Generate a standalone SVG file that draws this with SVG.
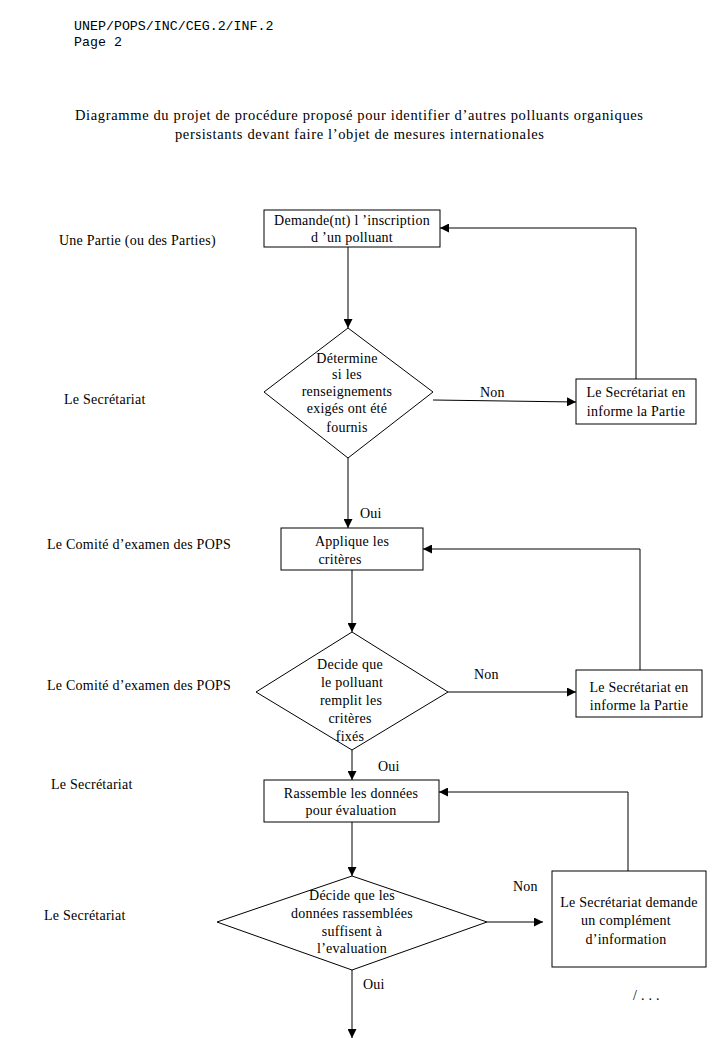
<svg xmlns="http://www.w3.org/2000/svg" width="719" height="1038" viewBox="0 0 719 1038">
<defs>
<style>
text{font-family:"Liberation Serif","Times New Roman",serif;font-size:14px;letter-spacing:0.25px;fill:#000}
.mono{font-family:"Liberation Mono","Courier New",monospace;font-size:13.3px;letter-spacing:0}
.title{font-size:14.5px;letter-spacing:0}
.c{text-anchor:middle}
.shape{fill:#fff;stroke:#000;stroke-width:1}
.conn{fill:none;stroke:#000;stroke-width:1}
</style>
<marker id="arr" viewBox="0 0 10 10" refX="10" refY="5" markerWidth="9" markerHeight="9" markerUnits="userSpaceOnUse" orient="auto">
<path d="M0,0 L10,5 L0,10 z" fill="#000"/>
</marker>
</defs>
<rect width="719" height="1038" fill="#fff"/>
<g id="header">
<text class="mono" x="74" y="30">UNEP/POPS/INC/CEG.2/INF.2</text>
<text class="mono" x="74" y="46">Page 2</text>
</g>
<g id="title">
<text class="title" x="75" y="120" textLength="568" lengthAdjust="spacing">Diagramme du projet de procédure proposé pour identifier d’autres polluants organiques</text>
<text class="title" x="175" y="139" textLength="369" lengthAdjust="spacing">persistants devant faire l’objet de mesures internationales</text>
</g>
<g id="lanes">
<text x="59" y="245">Une Partie (ou des Parties)</text>
<text x="64" y="404">Le Secrétariat</text>
<text x="47" y="549">Le Comité d’examen des POPS</text>
<text x="47" y="690">Le Comité d’examen des POPS</text>
<text x="51" y="789">Le Secrétariat</text>
<text x="44" y="920">Le Secrétariat</text>
</g>
<g id="connectors">
<line class="conn" x1="348" y1="247" x2="348" y2="328" marker-end="url(#arr)"/>
<polyline class="conn" points="433,400 576,402" marker-end="url(#arr)"/>
<polyline class="conn" points="636,379 636,228 440,228" marker-end="url(#arr)"/>
<line class="conn" x1="348" y1="458" x2="348" y2="528" marker-end="url(#arr)"/>
<polyline class="conn" points="640,670 640,549 423,549" marker-end="url(#arr)"/>
<line class="conn" x1="352" y1="570" x2="352" y2="632" marker-end="url(#arr)"/>
<line class="conn" x1="448" y1="692" x2="576" y2="692" marker-end="url(#arr)"/>
<line class="conn" x1="352" y1="750" x2="352" y2="780" marker-end="url(#arr)"/>
<polyline class="conn" points="628,871 628,792 439,792" marker-end="url(#arr)"/>
<line class="conn" x1="352" y1="822" x2="352" y2="876" marker-end="url(#arr)"/>
<line class="conn" x1="487" y1="922" x2="543" y2="922" marker-end="url(#arr)"/>
<line class="conn" x1="352" y1="970" x2="352" y2="1038" marker-end="url(#arr)"/>
<text x="480" y="397">Non</text>
<text x="360" y="518">Oui</text>
<text x="474" y="679">Non</text>
<text x="378" y="771">Oui</text>
<text x="513" y="891">Non</text>
<text x="363" y="989">Oui</text>
</g>
<g id="n1">
<rect class="shape" x="264" y="210" width="176" height="37"/>
<text class="c" x="352" y="225">Demande(nt) l ’inscription</text>
<text class="c" x="352" y="242">d ’un polluant</text>
</g>
<g id="d1">
<polygon class="shape" points="348,328 433,392 348,458 264,392"/>
<text class="c" x="347" y="363">Détermine</text>
<text class="c" x="347" y="379">si les</text>
<text class="c" x="347" y="396">renseignements</text>
<text class="c" x="347" y="413">exigés ont été</text>
<text class="c" x="347" y="432">fournis</text>
</g>
<g id="r1">
<rect class="shape" x="576" y="379" width="120" height="45"/>
<text class="c" x="636" y="397">Le Secrétariat en</text>
<text class="c" x="636" y="416">informe la Partie</text>
</g>
<g id="n2">
<rect class="shape" x="281" y="528" width="142" height="42"/>
<text class="c" x="352" y="546">Applique les</text>
<text class="c" x="340" y="564">critères</text>
</g>
<g id="d2">
<polygon class="shape" points="352,632 448,692 352,750 256,692"/>
<text class="c" x="350" y="669">Decide que</text>
<text class="c" x="352" y="687">le polluant</text>
<text class="c" x="351" y="705">remplit  les</text>
<text class="c" x="350" y="723">critères</text>
<text class="c" x="350" y="741">fixés</text>
</g>
<g id="r2">
<rect class="shape" x="576" y="670" width="126" height="47"/>
<text class="c" x="639" y="692">Le Secrétariat en</text>
<text class="c" x="639" y="710">informe la Partie</text>
</g>
<g id="n3">
<rect class="shape" x="264" y="780" width="175" height="42"/>
<text class="c" x="351" y="798">Rassemble les données</text>
<text class="c" x="351" y="815">pour évaluation</text>
</g>
<g id="d3">
<polygon class="shape" points="352,876 487,922 352,970 217,922"/>
<text class="c" x="352" y="900">Décide que les</text>
<text class="c" x="352" y="918">données rassemblées</text>
<text class="c" x="352" y="936">suffisent à</text>
<text class="c" x="352" y="953">l’evaluation</text>
</g>
<g id="r3">
<rect class="shape" x="552" y="871" width="154" height="96"/>
<text class="c" x="629" y="907">Le Secrétariat demande</text>
<text class="c" x="626" y="925">un complément</text>
<text class="c" x="626" y="944">d’information</text>
</g>
<g id="footer">
<text x="633" y="1000">/ . . .</text>
</g>
</svg>
